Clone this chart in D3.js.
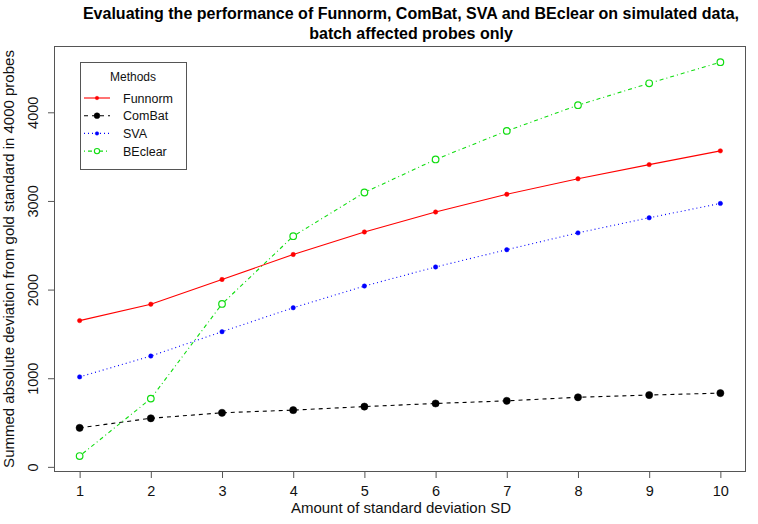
<!DOCTYPE html>
<html><head><meta charset="utf-8">
<script src="https://cdn.jsdelivr.net/npm/d3@7"></script>
<style>body{margin:0;background:#fff}svg{display:block}text{font-family:"Liberation Sans",Arial,sans-serif}</style>
</head><body><svg id="c" width="758" height="524"></svg>
<script>
const xValues = [1,2,3,4,5,6,7,8,9,10];
const funnorm = [1650,1835,2114,2396,2650,2875,3075,3250,3410,3565];
const combat  = [440,548,610,640,680,715,745,785,810,832];
const sva     = [1015,1250,1525,1795,2040,2255,2450,2640,2810,2972];
const beclear = [122,770,1838,2602,3095,3468,3790,4080,4327,4565];
const seriesNames = ["Funnorm","ComBat","SVA","BEclear"];
const yTicks = [0,1000,2000,3000,4000];
const xTicks = [1,2,3,4,5,6,7,8,9,10];

const series = [
  {name:"Funnorm", values:funnorm, color:"#ff0000", dash:null, shape:"dot", r:2.2},
  {name:"ComBat", values:combat, color:"#000000", dash:"4,4", shape:"dot", r:3.6},
  {name:"SVA", values:sva, color:"#0000ff", dash:"1,3", shape:"dot", r:2.2},
  {name:"BEclear", values:beclear, color:"#11dd11", dash:"1,3,4,3", shape:"circle", r:3.3}
];

const svg = d3.select("#c");
const L=54, R=746, T=46, B=472;
const x = d3.scaleLinear().domain([0.64,10.36]).range([L,R]);
const y = d3.scaleLinear().domain([-58,4748]).range([B,T]);

// box
svg.append("rect").attr("x",L+0.5).attr("y",T+0.5).attr("width",R-L-1).attr("height",B-T-1)
  .attr("fill","none").attr("stroke","#555").attr("stroke-width",1);

// x axis
const gx = svg.append("g").attr("transform",`translate(0,${B})`)
  .call(d3.axisBottom(x).tickValues(xTicks).tickFormat(d3.format("d")).tickSize(6).tickSizeOuter(0).tickPadding(8));
gx.select(".domain").remove();
gx.selectAll("line").attr("stroke","#555");
gx.selectAll("text").attr("font-size",14.5).attr("fill","#111").attr("font-family","Liberation Sans, Arial, sans-serif");

// y axis
const gy = svg.append("g").attr("transform",`translate(${L},0)`)
  .call(d3.axisLeft(y).tickValues(yTicks).tickFormat(d3.format("d")).tickSize(6).tickSizeOuter(0).tickPadding(0));
gy.select(".domain").remove();
gy.selectAll("line").attr("stroke","#555");
gy.selectAll("text").remove();
gy.selectAll(".tick").append("text")
  .attr("transform","translate(-16,0) rotate(-90)")
  .attr("text-anchor","middle").attr("font-size",14.5).attr("fill","#111")
  .text(d=>d);

// lines & points
const line = d3.line().x((d,i)=>x(xValues[i])).y(d=>y(d));
series.forEach(s=>{
  svg.append("path").datum(s.values).attr("d",line).attr("fill","none")
    .attr("stroke",s.color).attr("stroke-width",1.1).attr("stroke-dasharray",s.dash);
  svg.selectAll(null).data(s.values).enter().append("circle")
    .attr("cx",(d,i)=>x(xValues[i])).attr("cy",d=>y(d)).attr("r",s.r)
    .attr("fill",s.shape==="circle"?"#fff":s.color)
    .attr("stroke",s.color).attr("stroke-width",s.shape==="circle"?1.2:0.5);
});

// title
svg.append("text").attr("x",411).attr("y",19).attr("text-anchor","middle")
  .attr("font-size",16).attr("font-weight","bold").attr("fill","#000")
  .text("Evaluating the performance of Funnorm, ComBat, SVA and BEclear on simulated data,");
svg.append("text").attr("x",411).attr("y",39).attr("text-anchor","middle")
  .attr("font-size",16).attr("font-weight","bold").attr("fill","#000")
  .text("batch affected probes only");

// axis titles
svg.append("text").attr("x",401).attr("y",513).attr("text-anchor","middle")
  .attr("font-size",15).attr("fill","#111").text("Amount of standard deviation SD");
svg.append("text").attr("transform",`translate(14,${(T+B)/2}) rotate(-90)`).attr("text-anchor","middle")
  .attr("font-size",15).attr("fill","#111").text("Summed absolute deviation from gold standard in 4000 probes");

// legend
const lg = svg.append("g");
lg.append("rect").attr("x",80.5).attr("y",62.5).attr("width",106).attr("height",107)
  .attr("fill","#fff").attr("stroke","#555");
lg.append("text").attr("x",133).attr("y",81).attr("text-anchor","middle").attr("font-size",12).attr("fill","#111").text("Methods");
series.forEach((s,i)=>{
  const yy = 98 + i*17.7;
  lg.append("line").attr("x1",84).attr("x2",110).attr("y1",yy).attr("y2",yy)
    .attr("stroke",s.color).attr("stroke-width",1.1).attr("stroke-dasharray",s.dash);
  lg.append("circle").attr("cx",97).attr("cy",yy).attr("r",s.r*0.8)
    .attr("fill",s.shape==="circle"?"#fff":s.color).attr("stroke",s.color).attr("stroke-width",s.shape==="circle"?1.1:0.5);
  lg.append("text").attr("x",123).attr("y",yy+4.5).attr("font-size",12.5).attr("fill","#111").text(seriesNames[i]);
});
</script></body></html>
